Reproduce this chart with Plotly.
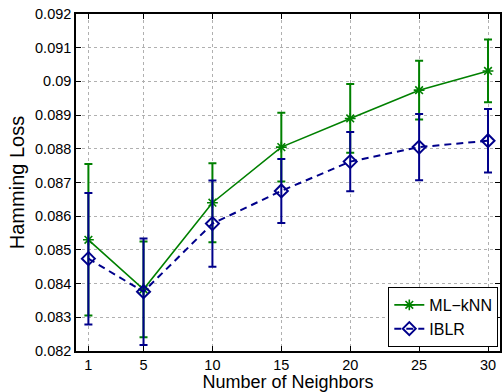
import plotly.graph_objects as go

neighbors = [1, 5, 10, 15, 20, 25, 30]

mlknn_loss = [0.08530, 0.08383, 0.08640, 0.08805, 0.08890, 0.08974, 0.09031]
mlknn_err = [0.00225, 0.00142, 0.00117, 0.00102, 0.00102, 0.00087, 0.00093]

iblr_loss = [0.08474, 0.08376, 0.08578, 0.08675, 0.08762, 0.08805, 0.08824]
iblr_err = [0.00195, 0.00158, 0.00128, 0.00095, 0.00088, 0.00098, 0.00094]

y_ticks = [0.082, 0.083, 0.084, 0.085, 0.086, 0.087, 0.088, 0.089, 0.090, 0.091, 0.092]
y_tick_text = ["0.082", "0.083", "0.084", "0.085", "0.086", "0.087", "0.088", "0.089", "0.09", "0.091", "0.092"]

GREEN = "#008000"
NAVY = "#00008B"
FONT = "Liberation Sans, Arial, Helvetica, sans-serif"

fig = go.Figure()

fig.add_trace(go.Scatter(
    x=neighbors, y=mlknn_loss, name="ML\u2212kNN",
    mode="lines+markers",
    line=dict(color=GREEN, width=1.6),
    marker=dict(symbol="asterisk-open", size=9, color=GREEN, line=dict(color=GREEN, width=1.6)),
    error_y=dict(type="data", array=mlknn_err, visible=True, color=GREEN, thickness=2, width=4),
))

fig.add_trace(go.Scatter(
    x=neighbors, y=iblr_loss, name="IBLR",
    mode="lines+markers",
    line=dict(color=NAVY, width=2, dash="7px,5px"),
    marker=dict(symbol="diamond-open", size=10, color=NAVY, line=dict(color=NAVY, width=2)),
    error_y=dict(type="data", array=iblr_err, visible=True, color=NAVY, thickness=2, width=4),
))

axis_common = dict(
    showline=True, linecolor="black", linewidth=1.5, mirror="ticks",
    ticks="inside", ticklen=5, tickcolor="black", tickwidth=1,
    showgrid=True, gridcolor="#b0b0b0", griddash="dot", gridwidth=1,
    zeroline=False,
    tickfont=dict(family=FONT, size=14.5, color="black"),
)

fig.update_xaxes(
    range=[0.1, 30.87], tickvals=neighbors,
    title=dict(text="Number of Neighbors", font=dict(family=FONT, size=18, color="black"), standoff=2),
    **axis_common,
)
fig.update_yaxes(
    range=[0.082, 0.092], tickvals=y_ticks, ticktext=y_tick_text,
    title=dict(text="Hamming Loss", font=dict(family=FONT, size=20, color="black"), standoff=5),
    **axis_common,
)

fig.update_layout(
    width=502, height=392,
    margin=dict(l=76, r=0, t=14, b=41),
    paper_bgcolor="white", plot_bgcolor="white",
    showlegend=True,
    legend=dict(
        x=0.996, y=0.012, xanchor="right", yanchor="bottom",
        bgcolor="white", bordercolor="black", borderwidth=1,
        font=dict(family=FONT, size=16, color="black"),
        itemwidth=30, tracegroupgap=0,
    ),
)

fig.write_html("out.html")
